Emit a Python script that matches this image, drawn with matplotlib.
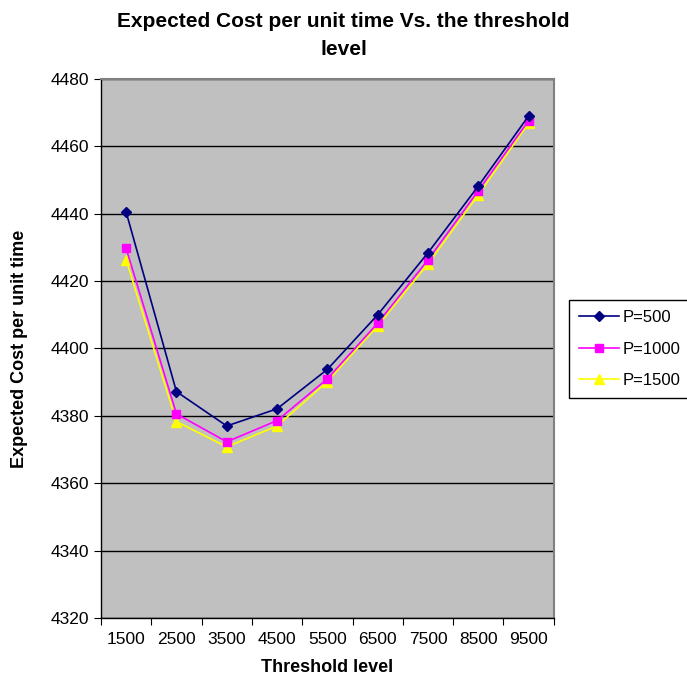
import matplotlib
matplotlib.use("Agg")
import matplotlib.pyplot as plt
import numpy as np

plt.rcParams['font.family'] = ['Liberation Sans', 'DejaVu Sans']

thresholds = ["1500", "2500", "3500", "4500", "5500", "6500", "7500", "8500", "9500"]
p500 = [4440.5, 4387.2, 4377.0, 4382.1, 4393.8, 4410.0, 4428.4, 4448.2, 4469.0]
p1000 = [4429.7, 4380.6, 4372.3, 4378.6, 4391.0, 4407.5, 4426.3, 4446.8, 4467.6]
p1500 = [4426.3, 4378.3, 4370.8, 4377.0, 4390.2, 4406.7, 4425.1, 4445.6, 4466.8]

fig = plt.figure(figsize=(6.87, 6.79), dpi=100)
ax = fig.add_axes([0.147, 0.0898, 0.659, 0.7939])
ax.set_facecolor('#c0c0c0')

x = np.arange(1, len(thresholds) + 1)
ax.plot(x, p500, color='#000080', marker='D', markersize=5, lw=1.2, label='P=500', zorder=5)
ax.plot(x, p1000, color='#ff00ff', marker='s', markersize=6, lw=1.2, label='P=1000', zorder=4)
ax.plot(x, p1500, color='#ffff00', marker='^', markersize=7, lw=1.2, label='P=1500', zorder=3)

ax.set_xlim(0.5, len(thresholds) + 0.5)
ax.set_ylim(4320, 4480)
ax.set_yticks(np.arange(4320, 4481, 20))
ax.yaxis.grid(True, color='black', lw=1)
ax.set_axisbelow(True)

ax.set_xticks(np.arange(0.5, len(thresholds) + 1, 1))
ax.set_xticklabels([])
ax.set_xticks(x, minor=True)
ax.set_xticklabels(thresholds, minor=True)
ax.tick_params(axis='x', which='minor', length=0, pad=10, labelsize=12.5)
ax.tick_params(axis='x', which='major', length=5, direction='out', color='black')
ax.tick_params(axis='y', length=5, direction='out', labelsize=12.5, color='black')

for s in ['top', 'right']:
    ax.spines[s].set_color('#808080')
    ax.spines[s].set_linewidth(1.5)
for s in ['left', 'bottom']:
    ax.spines[s].set_color('black')
    ax.spines[s].set_linewidth(1)

ax.set_xlabel('Threshold level', fontsize=13, fontweight='bold', labelpad=9)
ax.set_ylabel('Expected Cost per unit time', fontsize=13, fontweight='bold', labelpad=16)
fig.suptitle('Expected Cost per unit time Vs. the threshold\nlevel', fontsize=15, fontweight='bold', y=0.982, linespacing=1.6)

leg = fig.legend(loc='center left', bbox_to_anchor=(0.828, 0.486), fontsize=12,
                 frameon=True, fancybox=False, edgecolor='black', framealpha=1,
                 handlelength=2.4, borderpad=0.6, labelspacing=1.0, handletextpad=0.25,
                 borderaxespad=0)
leg.get_frame().set_linewidth(1)

fig.savefig('out.png', dpi=100)
